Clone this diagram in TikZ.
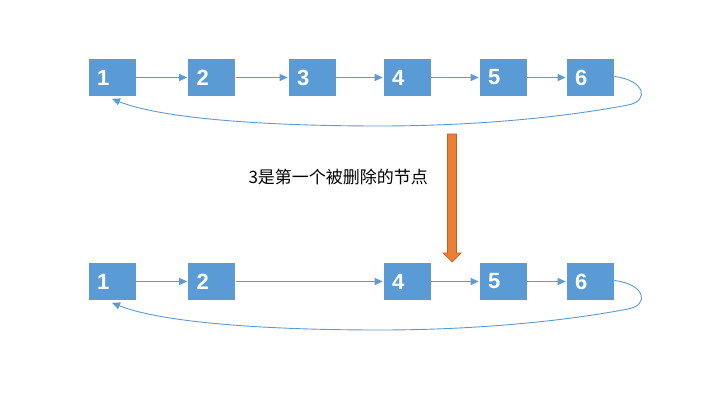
\documentclass[tikz,border=0pt]{standalone}
\usepackage{fontspec}
\setmainfont{Liberation Sans}
\newfontfamily\cjk{Noto Sans CJK SC}
\usetikzlibrary{arrows.meta}

\definecolor{boxblue}{HTML}{5B9BD5}
\definecolor{arrorange}{HTML}{ED7D31}
\definecolor{arrorangedark}{HTML}{B6622A}

\begin{document}
\begin{tikzpicture}[x=1pt,y=-1pt,
        listnode/.style={fill=boxblue, draw=white, line width=0.6pt,
          minimum width=48pt, minimum height=38pt, inner xsep=9pt,
          text width=30pt, align=left, text=white, font=\bfseries\fontsize{22}{24}\selectfont},
        link/.style={boxblue, line width=1pt, -{Triangle[length=8pt, width=7pt]}},
        back/.style={boxblue, line width=0.9pt, -{Triangle[length=8pt, width=7pt]}}
      ]
        \useasboundingbox (0,0) rectangle (701,412);

        % obere Liste
        \foreach \n/\x in {1/112,2/211.5,3/312,4/407,5/503,6/590}
          \node[listnode] (t\n) at (\x,77.5) {\n};
        \foreach \a/\b in {1/2,2/3,3/4,4/5,5/6}
          \draw[link] (t\a) -- (t\b);
        \coordinate (tend) at ([yshift=-2pt]t1.south);
        \draw[back] ([yshift=1pt]t6.east) .. controls (645,80) and (650,101) .. (628,105)
          .. controls (560,118) and (470,126) .. (380,126)
          .. controls (260,126) and (160,118) .. (tend);

        % Text und Pfeil
        \node[font=\cjk\fontsize{17}{20}\selectfont, anchor=west] (note) at (245,177) {3是第一个被删除的节点};
        \filldraw[fill=arrorange, draw=arrorangedark, line width=0.7pt]
          (447.5,134) -- (456.5,134) -- (456.5,253) -- (461,253) -- (452,262)
          -- (443,253) -- (447.5,253) -- cycle;

        % untere Liste
        \foreach \n/\x in {1/112,2/211.5,4/407,5/503,6/590}
          \node[listnode] (b\n) at (\x,281.5) {\n};
        \foreach \a/\b in {1/2,2/4,4/5,5/6}
          \draw[link] (b\a) -- (b\b);
        \coordinate (bend) at ([yshift=-2pt]b1.south);
        \draw[back] ([yshift=1pt]b6.east) .. controls (645,284) and (650,305) .. (628,309)
          .. controls (560,322) and (470,330) .. (380,330)
          .. controls (260,330) and (160,322) .. (bend);
      \end{tikzpicture}
\end{document}
